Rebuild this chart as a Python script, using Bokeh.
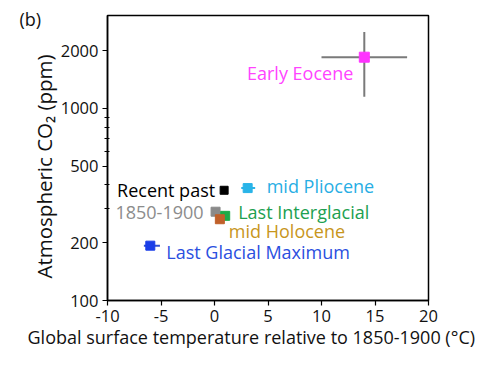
from bokeh.plotting import figure
from bokeh.models import FixedTicker, PrintfTickFormatter, Title, ColumnDataSource
from bokeh.core.properties import value
from bokeh.embed import file_html
from bokeh.resources import INLINE

# ---- data ----
periods = ["Early Eocene", "mid Pliocene", "Recent past", "1850-1900",
           "Last Interglacial", "mid Holocene", "Last Glacial Maximum"]
temp = [14.0, 3.1, 0.9, 0.1, 1.0, 0.5, -6.0]
co2 = [1850, 385, 375, 290, 276, 265, 193]

# error bars (temperature range, CO2 range)
err_names = ["Early Eocene", "mid Pliocene", "Last Glacial Maximum"]
err_temp = [14.0, 3.1, -6.0]
err_co2 = [1850, 385, 193]
err_t_lo = [10.0, 2.5, -6.6]
err_t_hi = [18.0, 3.8, -5.1]
err_c_lo = [1150, 365, 193]
err_c_hi = [2500, 405, 193]

x_ticks = [-10, -5, 0, 5, 10, 15, 20]
y_ticks = [100, 200, 500, 1000, 2000]
y_minor = [300, 400, 600, 700, 800, 900]

x_title = "Global surface temperature relative to 1850-1900 (°C)"
y_title = "Atmospheric CO₂ (ppm)"
panel_tag = "(b)"

# ---- styles ----
FONT = "Open Sans"
point_colors = ["#ff33ff", "#29b4e8", "#000000", "#8a8a8a", "#1daa48", "#c0602a", "#1a3ee8"]
text_colors = ["#ff44ff", "#27aee4", "#000000", "#8c8c8c", "#20a050", "#c8961c", "#2a4fe0"]
err_colors = ["#7a7a7a", "#29b4e8", "#3050d0"]
sizes = [10, 9, 8, 9, 9, 9, 9]
lab_dx = [-11, 19, -9, -12, 13, 9, 16]
lab_dy = [16, -2, 0, 1, -4, 12, 6]
lab_align = ["right", "left", "right", "right", "left", "left", "left"]

p = figure(width=486, height=362, y_axis_type="log",
           x_range=(-10, 20), y_range=(100, 3050),
           output_backend="svg", toolbar_location=None,
           min_border_left=107, min_border_right=58,
           min_border_top=15, min_border_bottom=62)
p.grid.visible = False
p.outline_line_color = "black"
p.outline_line_width = 1.5

# error bars
p.segment(x0=err_t_lo, x1=err_t_hi, y0=err_co2, y1=err_co2,
          line_color=err_colors, line_width=2)
p.segment(x0=err_temp, x1=err_temp, y0=err_c_lo, y1=err_c_hi,
          line_color=err_colors, line_width=2)

src = ColumnDataSource(dict(x=temp, y=co2, name=periods, pc=point_colors,
                            tc=text_colors, s=sizes, dx=lab_dx, dy=lab_dy,
                            al=lab_align))
p.scatter(x="x", y="y", marker="square", size="s", fill_color="pc",
          line_color="pc", source=src)
p.text(x="x", y="y", text="name", text_color="tc", x_offset="dx", y_offset="dy",
       text_align="al", text_baseline="middle", text_font=value(FONT),
       text_font_size="18px", source=src)

# axes
p.xaxis.ticker = FixedTicker(ticks=x_ticks, minor_ticks=[])
p.xaxis.formatter = PrintfTickFormatter(format="%d")
p.yaxis.ticker = FixedTicker(ticks=y_ticks, minor_ticks=y_minor)
p.yaxis.formatter = PrintfTickFormatter(format="%d")
for ax in (p.xaxis, p.yaxis):
    ax.axis_line_width = 1.5
    ax.axis_line_color = "black"
    ax.major_tick_line_color = "black"
    ax.minor_tick_line_color = "black"
    ax.major_tick_line_width = 1.2
    ax.major_tick_out = 5
    ax.major_tick_in = 0
    ax.minor_tick_out = 3
    ax.minor_tick_in = 2
    ax.major_label_text_font = FONT
    ax.major_label_text_font_size = "16.5px"
    ax.major_label_text_color = "#111111"
p.xaxis.major_label_standoff = 4
p.yaxis.major_label_standoff = 4

# axis titles as panel titles (allows shifting like the reference)
p.add_layout(Title(text=x_title, align="left", offset=-80, standoff=-4,
                   text_font=FONT, text_font_size="18px", text_font_style="normal",
                   text_color="#111111"), "below")
p.add_layout(Title(text=y_title, align="left", offset=22, standoff=0,
                   text_font=FONT, text_font_size="20.5px", text_font_style="normal",
                   text_color="#111111"), "left")
p.add_layout(Title(text=panel_tag, align="left", offset=-88, standoff=-30,
                   text_font=FONT, text_font_size="18px", text_font_style="normal",
                   text_color="#111111", text_line_height=0.5), "above")

open("out.html", "w").write(file_html(p, INLINE))
